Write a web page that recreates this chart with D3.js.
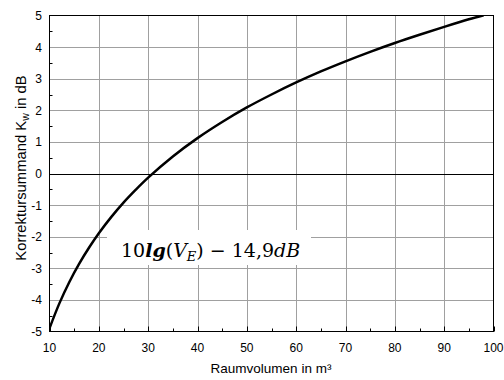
<!DOCTYPE html>
<html><head><meta charset="utf-8">
<script src="https://cdn.jsdelivr.net/npm/d3@7"></script>
<style>body{margin:0;background:#fff}</style>
</head><body>
<script>
// Data
const volumes = [10, 12, 14, 16, 18, 20, 22.5, 25, 27.5, 30, 35, 40, 45, 50, 55, 60, 65, 70, 75, 80, 85, 90, 95, 98];
const korrektur = [-4.9, -4.11, -3.44, -2.86, -2.35, -1.89, -1.38, -0.92, -0.51, -0.13, 0.54, 1.12, 1.63, 2.09, 2.50, 2.88, 3.23, 3.55, 3.85, 4.13, 4.39, 4.64, 4.88, 5.01];
const xTicks = [10, 20, 30, 40, 50, 60, 70, 80, 90, 100];
const yTicks = [-5, -4, -3, -2, -1, 0, 1, 2, 3, 4, 5];
const xMinor = [15, 25, 35, 45, 55, 65, 75, 85, 95];
const yMinor = [-4.5, -3.5, -2.5, -1.5, -0.5, 0.5, 1.5, 2.5, 3.5, 4.5];

const W = 504, H = 380;
const m = {left: 49.5, right: 493.5, top: 15.5, bottom: 331.5};
const svg = d3.select("body").append("svg").attr("width", W).attr("height", H);
const x = d3.scaleLinear().domain([10, 100]).range([m.left, m.right]);
const y = d3.scaleLinear().domain([-5, 5]).range([m.bottom, m.top]);
const sans = "Liberation Sans, Arial, sans-serif";

// grid
const g = svg.append("g");
g.selectAll("line.vx").data(xTicks.slice(1, -1)).join("line")
  .attr("x1", d => Math.round(x(d)) + 0.5).attr("x2", d => Math.round(x(d)) + 0.5)
  .attr("y1", m.top).attr("y2", m.bottom).attr("stroke", "#a0a0a0").attr("stroke-width", 1);
g.selectAll("line.hy").data(yTicks.filter(d => d !== 0 && d !== -5 && d !== 5)).join("line")
  .attr("y1", d => Math.round(y(d)) + 0.5).attr("y2", d => Math.round(y(d)) + 0.5)
  .attr("x1", m.left).attr("x2", m.right).attr("stroke", "#a0a0a0").attr("stroke-width", 1);

// minor ticks
g.selectAll("line.ym").data(yMinor).join("line")
  .attr("y1", d => Math.round(y(d)) + 0.5).attr("y2", d => Math.round(y(d)) + 0.5)
  .attr("x1", m.left).attr("x2", m.left + 3).attr("stroke", "#000");
g.selectAll("line.xm").data(xMinor).join("line")
  .attr("x1", d => Math.round(x(d)) + 0.5).attr("x2", d => Math.round(x(d)) + 0.5)
  .attr("y1", m.bottom).attr("y2", m.bottom - 3).attr("stroke", "#000");
g.selectAll("line.xM").data(xTicks).join("line")
  .attr("x1", d => Math.round(x(d)) + 0.5).attr("x2", d => Math.round(x(d)) + 0.5)
  .attr("y1", m.bottom).attr("y2", m.bottom - 5).attr("stroke", "#000");

// zero line
svg.append("line").attr("x1", m.left).attr("x2", m.right)
  .attr("y1", Math.round(y(0)) + 0.5).attr("y2", Math.round(y(0)) + 0.5).attr("stroke", "#000");

// curve
svg.append("clipPath").attr("id", "clip").append("rect")
  .attr("x", m.left).attr("y", m.top).attr("width", m.right - m.left).attr("height", m.bottom - m.top);
const pts = volumes.map((v, i) => [v, korrektur[i]]);
svg.append("path").datum(pts).attr("clip-path", "url(#clip)")
  .attr("fill", "none").attr("stroke", "#000").attr("stroke-width", 2.5)
  .attr("d", d3.line().x(d => x(d[0])).y(d => y(d[1])).curve(d3.curveCatmullRom.alpha(0.5)));

// frame
svg.append("rect").attr("x", m.left).attr("y", m.top).attr("width", m.right - m.left)
  .attr("height", m.bottom - m.top).attr("fill", "none").attr("stroke", "#000");

// formula box
svg.append("rect").attr("x", 107).attr("y", 230).attr("width", 204).attr("height", 35).attr("fill", "#fff");
const f = svg.append("text").attr("x", 121).attr("y", 257)
  .attr("font-family", "DejaVu Serif, Liberation Serif, serif").attr("font-size", 19).attr("fill", "#000");
f.append("tspan").text("10");
f.append("tspan").attr("font-weight", "bold").attr("font-style", "italic").text("lg");
f.append("tspan").text("(");
f.append("tspan").attr("font-style", "italic").text("V");
f.append("tspan").attr("font-style", "italic").attr("font-size", 13).attr("dy", 4).text("E");
f.append("tspan").attr("dy", -4).text(") − 14,9");
f.append("tspan").attr("font-style", "italic").text("dB");

// tick labels
svg.append("g").selectAll("text").data(xTicks).join("text")
  .attr("x", d => x(d)).attr("y", 352).attr("text-anchor", "middle")
  .attr("font-family", sans).attr("font-size", 12).attr("fill", "#000").text(d => d);
svg.append("g").selectAll("text").data(yTicks).join("text")
  .attr("x", 42).attr("y", d => y(d) + 4.5).attr("text-anchor", "end")
  .attr("font-family", sans).attr("font-size", 12).attr("fill", "#000").text(d => d);

// axis titles
svg.append("text").attr("x", 271).attr("y", 373).attr("text-anchor", "middle")
  .attr("font-family", sans).attr("font-size", 13.5).attr("fill", "#000").text("Raumvolumen in m³");
const yt = svg.append("text").attr("transform", "translate(26,168) rotate(-90)")
  .attr("text-anchor", "middle").attr("font-family", sans).attr("font-size", 14.8).attr("fill", "#000");
yt.append("tspan").text("Korrektursummand K");
yt.append("tspan").attr("font-size", 10.5).attr("dy", 3).text("w");
yt.append("tspan").attr("dy", -3).text(" in dB");
</script>
</body></html>
